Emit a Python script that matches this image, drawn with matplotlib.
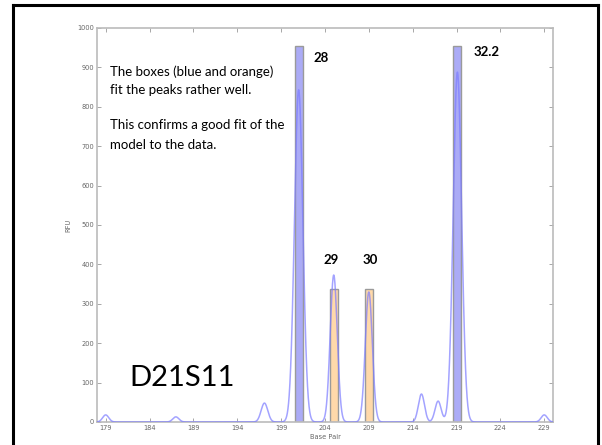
import matplotlib.pyplot as plt
import numpy as np
from matplotlib.patches import Rectangle
from matplotlib.lines import Line2D

# peaks of the trace (base pair, RFU, width)
peak_bp = [179.0, 187.0, 197.1, 201.0, 205.0, 209.0, 215.0, 216.9, 219.1, 229.0]
peak_rfu = [18, 13, 48, 843, 373, 330, 71, 53, 888, 18]
peak_sd = [0.35, 0.35, 0.38, 0.48, 0.4, 0.4, 0.35, 0.35, 0.48, 0.35]

# fitted boxes
box_bp = [201.06, 205.0, 209.05, 219.1]
box_rfu = [954, 338, 338, 954]
box_kind = ['blue', 'orange', 'orange', 'blue']
allele_labels = ['28', '29', '30', '32.2']

bp = np.linspace(178, 230, 3000)
rfu = np.zeros_like(bp)
for m, h, s in zip(peak_bp, peak_rfu, peak_sd):
    rfu += h * np.exp(-0.5 * ((bp - m) / s) ** 2)

fig = plt.figure(figsize=(6.02, 4.45), dpi=100)
ax = fig.add_axes([0.161, 0.0517, 0.7576, 0.8854])

fills = {'blue': '#ababf6', 'orange': '#ffd9aa'}
for x, h, k in zip(box_bp, box_rfu, box_kind):
    ax.add_patch(Rectangle((x - 0.45, 0), 0.9, h, facecolor=fills[k],
                           edgecolor='#9a9a9a', lw=1, zorder=2))

ax.plot(bp, rfu, color='#7c7cff', lw=1.1, alpha=0.7, zorder=3)

ax.set_xlim(178, 230)
ax.set_ylim(0, 1000)
ax.set_xticks(np.arange(179, 230, 5))
ax.set_yticks(np.arange(0, 1001, 100))
ax.tick_params(direction='in', length=3, width=0.6, colors='#999999',
               labelcolor='#666666', labelsize=4.8, top=True, right=True,
               labeltop=False, labelright=False, pad=2)
for sp in ax.spines.values():
    sp.set_color('#bbbbbb')
    sp.set_linewidth(1.2)
ax.set_xlabel('Base Pair', fontsize=4.8, color='#666666', labelpad=2)
ax.set_ylabel('RFU', fontsize=4.8, color='#666666', labelpad=4)

txt = dict(fontsize=9.5, family=['Lato', 'DejaVu Sans'], color='black')
ax.text(179.5, 889, 'The boxes (blue and orange)', va='center', **txt)
ax.text(179.5, 843, 'fit the peaks rather well.', va='center', **txt)
ax.text(179.5, 754, 'This confirms a good fit of the', va='center', **txt)
ax.text(179.5, 703, 'model to the data.', va='center', **txt)

lab_pos = [(203.6, 924), (204.7, 411), (209.2, 411), (222.4, 939)]
for (x, y), s in zip(lab_pos, allele_labels):
    ax.text(x, y, s, ha='center', va='center', fontsize=9.5, fontweight='bold',
            family=['Lato', 'DejaVu Sans'])

ax.text(187.7, 112, 'D21S11', ha='center', va='center', fontsize=21,
        family=['Lato', 'DejaVu Sans'])

# slide frame
xl, xr, yt = 13 / 602, 598 / 602, 1 - 5 / 445
for xs, ys in [([xl, xl], [0, yt]), ([xl, xr], [yt, yt]), ([xr, xr], [yt, 0])]:
    fig.add_artist(Line2D(xs, ys, color='black', lw=2.2, transform=fig.transFigure))

fig.savefig('out.png', dpi=100)
